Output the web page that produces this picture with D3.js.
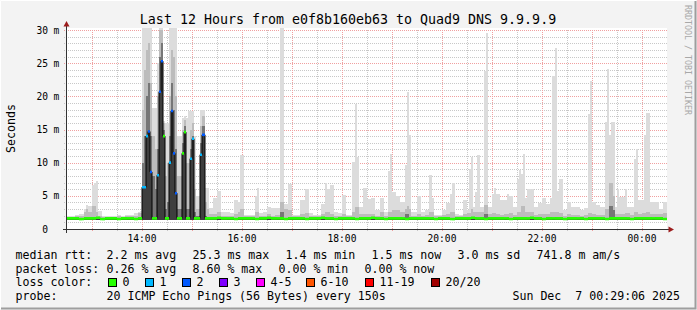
<!DOCTYPE html>
<html><head><meta charset="utf-8">
<script src="https://cdn.jsdelivr.net/npm/d3@7"></script>
<style>html,body{margin:0;padding:0;background:#f3f3f3;overflow:hidden}svg{display:block}text{font-family:"DejaVu Sans Mono",monospace}</style>
</head><body><svg id="c" width="697" height="310"></svg>
<script>
// ---- data: 288 steps of 150 s from 12:30 to 00:30 (rtt in ms) ----
const rttMin = [
1.4,1.4,1.4,1.4,1.4,1.4,1.4,1.4,1.4,1.4,1.4,1.4,1.4,1.4,1.4,1.4,1.4,1.4,
1.4,1.4,1.4,1.4,1.4,1.4,1.4,1.4,1.4,1.4,1.4,1.4,1.4,1.4,1.4,1.4,1.4,1.4,
1.4,1.4,1.4,1.4,1.4,1.4,1.4,1.4,1.4,1.4,1.4,1.4,1.4,1.4,1.4,1.4,1.4,1.4,
1.4,1.4,1.4,1.4,1.4,1.4,1.4,1.4,1.4,1.4,1.4,1.4,1.4,1.4,1.4,1.4,1.4,1.4,
1.4,1.4,1.4,1.4,1.4,1.4,1.4,1.4,1.4,1.4,1.4,1.4,1.4,1.4,1.4,1.4,1.4,1.4,
1.4,1.4,1.4,1.4,1.4,1.4,1.4,1.4,1.4,1.4,1.4,1.4,1.4,1.4,1.4,1.4,1.4,1.4,
1.4,1.4,1.4,1.4,1.4,1.4,1.4,1.4,1.4,1.4,1.4,1.4,1.4,1.4,1.4,1.4,1.4,1.4,
1.4,1.4,1.4,1.4,1.4,1.4,1.4,1.4,1.4,1.4,1.4,1.4,1.4,1.4,1.4,1.4,1.4,1.4,
1.4,1.4,1.4,1.4,1.4,1.4,1.4,1.4,1.4,1.4,1.4,1.4,1.4,1.4,1.4,1.4,1.4,1.4,
1.4,1.4,1.4,1.4,1.4,1.4,1.4,1.4,1.4,1.4,1.4,1.4,1.4,1.4,1.4,1.4,1.4,1.4,
1.4,1.4,1.4,1.4,1.4,1.4,1.4,1.4,1.4,1.4,1.4,1.4,1.4,1.4,1.4,1.4,1.4,1.4,
1.4,1.4,1.4,1.4,1.4,1.4,1.4,1.4,1.4,1.4,1.4,1.4,1.4,1.4,1.4,1.4,1.4,1.4,
1.4,1.4,1.4,1.4,1.4,1.4,1.4,1.4,1.4,1.4,1.4,1.4,1.4,1.4,1.4,1.4,1.4,1.4,
1.4,1.4,1.4,1.4,1.4,1.4,1.4,1.4,1.4,1.4,1.4,1.4,1.4,1.4,1.4,1.4,1.4,1.4,
1.4,1.4,1.4,1.4,1.4,1.4,1.4,1.4,1.4,1.4,1.4,1.4,1.4,1.4,1.4,1.4,1.4,1.4,
1.4,1.4,1.4,1.4,1.4,1.4,1.4,1.4,1.4,1.4,1.4,1.4,1.4,1.4,1.4,1.4,1.4,1.4];
const rttMedian = [
1.6,1.6,1.6,1.6,1.6,1.6,1.5,1.5,1.6,1.6,1.6,1.6,1.6,1.6,1.7,1.7,1.5,1.5,
1.6,1.6,1.6,1.6,1.6,1.6,1.5,1.5,1.6,1.6,1.6,1.6,1.6,1.6,1.5,1.5,1.6,1.6,
6.3,6.3,14,14.7,8.6,1.6,1.6,8.1,20.7,25.3,14,1.6,1.6,10,17.8,11.4,5.4,1.6,
1.6,11.4,14.6,1.6,1.6,10.6,13.6,1.6,1.6,1.6,11.2,14.2,1.6,1.6,1.6,1.6,1.6,1.6,
1.7,1.7,1.6,1.6,1.6,1.6,1.6,1.6,1.5,1.5,1.6,1.6,1.6,1.6,1.6,1.6,1.6,1.6,
1.5,1.5,1.6,1.6,1.6,1.6,1.7,1.7,1.6,1.6,1.6,1.6,1.6,1.6,1.5,1.5,1.6,1.6,
1.6,1.6,1.6,1.6,1.6,1.6,1.5,1.5,1.6,1.6,1.6,1.6,1.6,1.6,1.7,1.7,1.6,1.6,
1.6,1.6,1.5,1.5,1.6,1.6,1.6,1.6,1.6,1.6,1.6,1.6,1.5,1.5,1.6,1.6,1.6,1.6,
1.6,1.6,1.7,1.7,1.6,1.6,1.6,1.6,1.5,1.5,1.6,1.6,1.6,1.6,1.6,1.6,1.6,1.6,
1.5,1.5,1.6,1.6,1.6,1.6,1.6,1.6,1.6,1.6,1.6,1.6,1.6,1.6,1.5,1.5,1.6,1.6,
1.6,1.6,1.6,1.6,1.5,1.5,1.6,1.6,1.6,1.6,1.6,1.6,1.6,1.6,1.7,1.7,1.6,1.6,
1.6,1.6,1.5,1.5,1.6,1.6,1.6,1.6,1.6,1.6,1.6,1.6,1.6,1.6,1.5,1.5,1.6,1.6,
1.6,1.6,1.6,1.6,1.6,1.6,1.7,1.7,1.6,1.6,1.6,1.6,1.5,1.5,1.6,1.6,1.6,1.6,
1.6,1.6,1.6,1.6,1.5,1.5,1.6,1.6,1.6,1.6,1.6,1.6,1.6,1.6,1.5,1.5,1.6,1.6,
1.6,1.6,1.6,1.6,1.6,1.6,1.5,1.5,1.6,1.6,1.6,1.6,1.6,1.6,1.6,1.6,1.6,1.6,
1.5,1.5,1.6,1.6,1.6,1.6,1.6,1.6,1.6,1.6,1.6,1.6,1.6,1.6,1.6,1.6,1.5,1.5];
const rttP75 = [
1.7,1.7,1.7,1.7,1.7,1.7,1.7,1.7,1.7,1.7,1.7,1.7,1.7,1.7,1.7,1.7,1.7,1.7,
1.7,1.7,1.7,1.7,1.7,1.7,1.7,1.7,1.7,1.7,1.7,1.7,1.7,1.7,1.7,1.7,1.7,1.7,
10,14,20,22,14,8,6,12,26,28,15,3,4,14,22,18,12,3,
3,13,15.5,3,3,12,14,2.5,2,2,13,15.5,2,1.8,1.7,1.7,1.7,1.7,
1.7,1.7,1.7,1.7,1.7,1.7,1.7,1.7,1.7,1.7,1.7,1.7,1.7,1.7,1.7,1.7,1.7,1.7,
1.7,1.7,1.7,1.7,1.7,1.7,1.7,1.7,1.7,1.7,1.7,1.7,2.6,2.6,1.7,1.7,1.7,1.7,
1.7,1.7,1.7,1.7,1.7,1.7,1.7,1.7,1.7,1.7,1.7,1.7,1.7,1.7,1.7,1.7,1.7,1.7,
1.7,1.7,1.7,1.7,1.7,1.7,1.7,1.7,1.7,1.7,1.7,1.7,1.7,1.7,1.7,1.7,1.7,1.7,
1.7,1.7,1.7,1.7,1.7,1.7,1.7,1.7,1.7,1.7,1.7,1.7,1.7,1.7,1.7,1.7,1.7,1.7,
2.2,2.2,1.7,1.7,1.7,1.7,1.7,1.7,1.7,1.7,1.7,1.7,1.7,1.7,1.7,1.7,1.7,1.7,
1.7,1.7,1.7,1.7,1.7,1.7,1.7,1.7,1.7,1.7,1.7,1.7,1.7,1.7,1.7,1.7,1.7,1.7,
1.7,1.7,2.2,2.2,1.7,1.7,1.7,1.7,1.7,1.7,1.7,1.7,1.7,1.7,1.7,1.7,1.7,1.7,
1.7,1.7,1.7,1.7,1.7,1.7,1.7,1.7,1.7,1.7,1.7,1.7,1.7,1.7,1.7,1.7,1.7,1.7,
1.7,1.7,1.7,1.7,1.7,1.7,1.7,1.7,1.7,1.7,1.7,1.7,1.7,1.7,1.7,1.7,1.7,1.7,
1.7,1.7,1.7,1.7,1.7,1.7,1.7,1.7,3.5,3.5,2.8,1.7,1.7,1.7,1.7,1.7,1.7,1.7,
1.7,1.7,1.7,1.7,1.7,1.7,1.7,1.7,1.7,1.7,1.7,1.7,1.7,1.7,1.7,1.7,1.7,1.7];
const rttP90 = [
1.8,1.8,1.8,1.8,1.9,1.9,1.9,1.9,2.6,3.0,2.6,2.6,3.5,3.5,2.5,2.0,2.0,1.8,
1.8,1.8,1.8,1.8,1.8,1.8,1.9,1.9,1.8,1.8,1.9,1.9,1.9,1.9,2.0,2.0,2.4,2.4,
18,24,27,28,22,14,12,20,30,30,16,8,10,20,27,26,20,8,
8,15,16.5,10,10,15,16,6,3,3,15.5,17,4,3,2.3,2.3,2.2,2.2,
2.6,2.6,1.9,1.9,1.9,1.9,1.9,1.9,2.2,2.2,2.6,3.0,3.0,1.9,1.9,1.9,1.9,1.9,
2.5,2.5,1.9,1.9,2.0,2.0,2.2,2.2,2.0,2.0,2.1,2.1,4.1,4.1,3.0,3.0,2.8,2.8,
1.9,1.9,1.9,1.9,2.2,2.2,2.4,2.4,1.9,1.9,1.9,1.9,1.9,1.9,2.2,2.2,2.5,2.5,
2.3,2.3,2.0,2.0,1.9,1.9,2.2,2.2,1.9,1.9,1.9,2.6,3.3,3.3,2.2,2.2,2.3,2.3,
2.2,2.2,2.2,2.2,2.0,2.0,2.6,2.6,2.0,2.0,2.6,2.6,2.9,2.9,2.9,2.9,2.6,2.6,
3.0,3.5,3.0,2.0,2.0,2.0,2.2,2.2,2.0,2.0,2.1,2.1,2.5,2.5,1.9,1.9,1.9,1.9,
2.1,2.1,2.2,2.2,2.5,2.5,1.9,1.9,1.9,1.9,2.2,2.2,2.4,2.4,3.0,2.5,2.6,2.6,
2.5,2.5,3.6,3.6,2.2,2.2,2.4,2.4,2.3,2.3,2.1,2.1,2.3,2.3,2.4,2.4,2.1,2.1,
2.6,2.6,3.4,3.4,2.6,2.6,2.5,2.5,2.1,2.1,2.2,2.2,2.3,2.3,2.2,2.2,2.6,2.6,
2.5,2.5,2.4,2.4,2.0,2.0,2.2,2.2,2.1,2.1,2.1,2.1,2.0,2.0,2.1,2.1,2.4,2.4,
2.2,2.2,2.1,2.1,2.1,2.1,3.0,3.0,7.0,7.0,5.0,2.3,2.3,2.3,2.2,2.2,2.4,2.4,
2.1,2.1,2.6,2.6,2.2,2.2,2.4,2.4,2.5,2.5,2.2,2.2,2.3,2.3,2.3,2.3,2.4,2.4];
const rttMax = [
2.0,2.0,2.0,2.0,2.1,2.1,2.2,2.2,3.0,3.6,3.5,3.5,6.6,7.0,7.3,2.7,2.7,2.0,
2.0,2.0,2.0,2.0,2.0,2.0,2.1,2.1,2.0,2.0,2.1,2.1,2.1,2.1,2.4,2.4,2.6,2.7,
31,31,31,31,31,18.3,18.3,25,31,31,16.3,16,16,31,31,31,31,14,
14,16.8,17,16.8,17.8,17.8,17.8,14,5,5,18,18,6.2,6.2,3.1,3.1,4.7,4.7,
5.7,5.7,2.6,2.6,2.5,2.5,2.35,2.35,4.35,4.35,4.1,11.2,11.2,2.1,2.1,2.1,2.1,2.1,
5.0,6.2,2.35,2.35,2.6,2.6,3.35,3.35,3.1,3.1,3.1,3.1,31,31,3.75,3.75,6.75,6.75,
2.1,2.1,2.1,2.1,4.35,4.35,6.1,6.1,2.35,2.35,2.1,2.1,2.1,2.1,3.75,3.75,7,6.0,
6.6,6.6,2.6,2.6,2.35,2.35,5.2,5.2,2.1,2.1,2.1,10.1,18.85,10.85,3.35,3.35,6.25,6.25,
4.5,4.5,4.6,4.6,2.85,2.85,4.7,4.7,2.6,2.6,8.75,11.25,5.6,5.6,5,5,4.1,4.1,
9.6,20.6,14.2,2.6,2.6,2.6,5,5,2.6,2.6,2.85,2.85,8.1,4.7,2.1,2.1,2.1,2.1,
2.85,2.85,3.85,3.85,5.35,7,2.25,2.25,2.1,2.1,4.35,4.35,2.85,9,10.85,3.35,5.6,11.1,
3.35,3.35,23.85,29.6,3.35,3.35,5.35,6.25,5.35,5.35,4.35,4.35,4.35,5.35,5,5,3.35,3.35,
7.5,8.85,8.35,11.25,4.7,6.1,6.1,6.1,3.35,3.35,3.85,3.85,4.6,4.6,3.75,3.75,4.7,23.1,
27.35,5.75,7.5,7.5,2.85,2.85,4.1,4.1,3.35,3.35,3.35,3.35,2.85,2.85,3.1,3.1,17.35,22.35,
4.1,4.1,3.6,3.6,3.35,3.35,16.1,24.1,14.1,16.1,16.1,3.35,6.1,4.85,4.85,4.85,6.1,3.25,
3.25,3.25,10.5,12.1,4.35,4.35,4.35,14.1,17.5,17.5,4.1,4.1,4.1,4.1,3.0,3.0,4.1,4.1];
const lossCount = [
0,0,0,0,0,0,0,0,0,0,0,0,0,0,0,0,0,0,
0,0,0,0,0,0,0,0,0,0,0,0,0,0,0,0,0,0,
1,1,1,2,2,0,0,1,2,2,0,0,0,1,2,2,2,0,
0,0,0,0,0,1,1,0,0,0,1,2,0,0,0,0,0,0,
0,0,0,0,0,0,0,0,0,0,0,0,0,0,0,0,0,0,
0,0,0,0,0,0,0,0,0,0,0,0,0,0,0,0,0,0,
0,0,0,0,0,0,0,0,0,0,0,0,0,0,0,0,0,0,
0,0,0,0,0,0,0,0,0,0,0,0,0,0,0,0,0,0,
0,0,0,0,0,0,0,0,0,0,0,0,0,0,0,0,0,0,
0,0,0,0,0,0,0,0,0,0,0,0,0,0,0,0,0,0,
0,0,0,0,0,0,0,0,0,0,0,0,0,0,0,0,0,0,
0,0,0,0,0,0,0,0,0,0,0,0,0,0,0,0,0,0,
0,0,0,0,0,0,0,0,0,0,0,0,0,0,0,0,0,0,
0,0,0,0,0,0,0,0,0,0,0,0,0,0,0,0,0,0,
0,0,0,0,0,0,0,0,0,0,0,0,0,0,0,0,0,0,
0,0,0,0,0,0,0,0,0,0,0,0,0,0,0,0,0,0];
const yTicks = [0,5,10,15,20,25,30];
const xLabelHours = ["14:00","16:00","18:00","20:00","22:00","00:00"];
const lossColors = ["#26ff00","#00b8ff","#0059ff","#7e00ff","#ff00ff","#ff5500","#ff0000","#a10000"];
const lossLabels = ["0","1","2","3","4-5","6-10","11-19","20/20"];
const legendRows = [
  [["median rtt:",16],["2.2 ms avg",107],["25.3 ms max",193],["1.4 ms min",286],["1.5 ms now",372],["3.0 ms sd",458],["741.8 m am/s",537]],
  [["packet loss:",16],["0.26 % avg",107],["8.60 % max",193],["0.00 % min",279],["0.00 % now",365]],
  [["loss color:",16]],
  [["probe:",16],["20 ICMP Echo Pings (56 Bytes) every 150s",107]]
];
const lossBoxX = [108,145,182,219,256,306,365,431];
const titleText = "Last 12 Hours from e0f8b160eb63 to Quad9 DNS 9.9.9.9";
const dateText = "Sun Dec  7 00:29:06 2025";

// ---- drawing ----
const W=697,H=310;
const svg=d3.select("#c");
const defs=svg.append("defs");
[["hMaj","#f0a0a0",2,1],["hMin","#c8c8c8",2,1],["vMaj","#f0a0a0",1,2],["vMin","#c8c8c8",1,2]].forEach(([id,c,w,h])=>{
  defs.append("pattern").attr("id",id).attr("patternUnits","userSpaceOnUse").attr("width",w).attr("height",h)
    .append("rect").attr("width",1).attr("height",1).attr("fill",c);
});
svg.append("rect").attr("width",W).attr("height",H).attr("fill","#f3f3f3");
svg.append("path").attr("d","M0.5,309 V0.5 H696").attr("stroke","#ffffff").attr("fill","none");
svg.append("path").attr("d","M1,308.5 H695.5 V1").attr("stroke","#9e9e9e").attr("stroke-width",2).attr("fill","none");

const t0=new Date(2025,11,6,12,30), t1=new Date(2025,11,7,0,30);
const x=d3.scaleTime().domain([t0,t1]).range([67,667]);
const y=d3.scaleLinear().domain([0,30]).range([229,30]);

svg.append("rect").attr("x",67).attr("y",28).attr("width",600).attr("height",201).attr("fill","#ffffff");

// grid (dotted, drawn as 1px pattern-filled strips)
const grid=svg.append("g").attr("shape-rendering","crispEdges");
d3.range(1,31).forEach(v=>{
  const yy=Math.round(y(v));
  grid.append("rect").attr("x",63).attr("y",yy).attr("width",604).attr("height",1)
    .attr("fill",v%5===0?"url(#hMaj)":"url(#hMin)");
});
d3.timeMinute.every(30).range(d3.timeMinute.offset(t0,30),t1).forEach(t=>{
  const xx=Math.round(x(t));
  grid.append("rect").attr("x",xx).attr("y",30).attr("width",1).attr("height",202)
    .attr("fill",t.getMinutes()===0?"url(#vMaj)":"url(#vMin)");
});

// data
const stepSec=150;
const steps=rttMedian.map((m,i)=>{const t=d3.timeSecond.offset(t0,i*stepSec);
  return {t,t2:d3.timeSecond.offset(t,stepSec),lo:rttMin[i],med:m,p75:rttP75[i],p90:rttP90[i],max:rttMax[i],loss:lossCount[i]};});
svg.append("clipPath").attr("id","cp").append("rect").attr("x",67).attr("y",28).attr("width",600).attr("height",202);
const plot=svg.append("g").attr("clip-path","url(#cp)");
[["max","#dcdcdc"],["p90","#bcbcbc"],["p75","#767676"],["med","#3e3e3e"]].forEach(([k,c])=>{
  plot.append("g").selectAll("rect").data(steps).join("rect")
    .attr("x",d=>Math.round(x(d.t))).attr("width",d=>Math.round(x(d.t2))-Math.round(x(d.t)))
    .attr("y",d=>y(d[k])).attr("height",d=>Math.max(0,y(d.lo)-y(d[k])))
    .attr("fill",c).attr("shape-rendering","crispEdges");
});
const pts=steps.map(d=>[Math.round(x(d.t)),y(d.med)]);
pts.push([Math.round(x(steps[steps.length-1].t2)),y(steps[steps.length-1].med)]);
plot.append("path").attr("d",d3.line().curve(d3.curveStepAfter)(pts))
  .attr("fill","none").attr("stroke","#000").attr("stroke-width",1);
function lossColor(n){if(n<=0)return lossColors[0];if(n===1)return lossColors[1];if(n===2)return lossColors[2];if(n===3)return lossColors[3];if(n<=5)return lossColors[4];if(n<=10)return lossColors[5];if(n<=19)return lossColors[6];return lossColors[7];}
plot.append("g").selectAll("line").data(steps).join("line")
  .attr("x1",d=>Math.round(x(d.t))).attr("x2",d=>Math.round(x(d.t2))).attr("y1",d=>y(d.med)).attr("y2",d=>y(d.med))
  .attr("stroke",d=>lossColor(d.loss)).attr("stroke-width",2.6);

// axes
const ax=svg.append("g").attr("shape-rendering","crispEdges");
ax.append("line").attr("x1",66.5).attr("x2",66.5).attr("y1",233).attr("y2",24).attr("stroke","#333");
ax.append("line").attr("x1",63).attr("x2",670).attr("y1",229.5).attr("y2",229.5).attr("stroke","#333");
svg.append("path").attr("d","M63.5,26.5 L69.5,26.5 L66.5,21 Z").attr("fill","#9c1c1c");
svg.append("path").attr("d","M668.5,226.5 L668.5,232.5 L674,229.5 Z").attr("fill","#9c1c1c");

// tick labels
const lab=svg.append("g").attr("font-size","9.6px").attr("fill","#000");
yTicks.forEach(v=>{
  lab.append("text").attr("x",48).attr("y",y(v)+3.6).attr("text-anchor","end").text(String(v));
  if(v>0) lab.append("text").attr("x",53.6).attr("y",y(v)+3.6).text("m");
});
xLabelHours.forEach((s,i)=>{
  const t=d3.timeHour.offset(new Date(2025,11,6,14,0),i*2);
  lab.append("text").attr("x",x(t)).attr("y",241.5).attr("text-anchor","middle").text(s);
});

// title and labels
svg.append("text").attr("x",348).attr("y",24).attr("text-anchor","middle").attr("font-size","13.3px").text(titleText);
svg.append("text").attr("transform","translate(14.5,128.5) rotate(-90)").attr("text-anchor","middle").attr("font-size","11.6px").text("Seconds");
svg.append("text").attr("transform","translate(684.5,5) rotate(90)").attr("font-size","8.3px").attr("fill","#a8a8a8").text("RRDTOOL / TOBI OETIKER");

// legend
const lg=svg.append("g").attr("font-size","11.6px").attr("fill","#000");
const rowY=[259,272.5,286,299.5];
legendRows.forEach((row,r)=>row.forEach(([s,xx])=>{
  lg.append("text").attr("x",xx-0.5).attr("y",rowY[r]).style("white-space","pre").text(s);
}));
lossLabels.forEach((s,i)=>{
  lg.append("rect").attr("x",lossBoxX[i]+0.5).attr("y",278.5).attr("width",8).attr("height",8)
    .attr("fill",lossColors[i]).attr("stroke","#000").attr("shape-rendering","crispEdges");
  lg.append("text").attr("x",lossBoxX[i]+14.5).attr("y",rowY[2]).text(s);
});
lg.append("text").attr("x",680).attr("y",rowY[3]).attr("text-anchor","end").style("white-space","pre").text(dateText);
</script></body></html>
